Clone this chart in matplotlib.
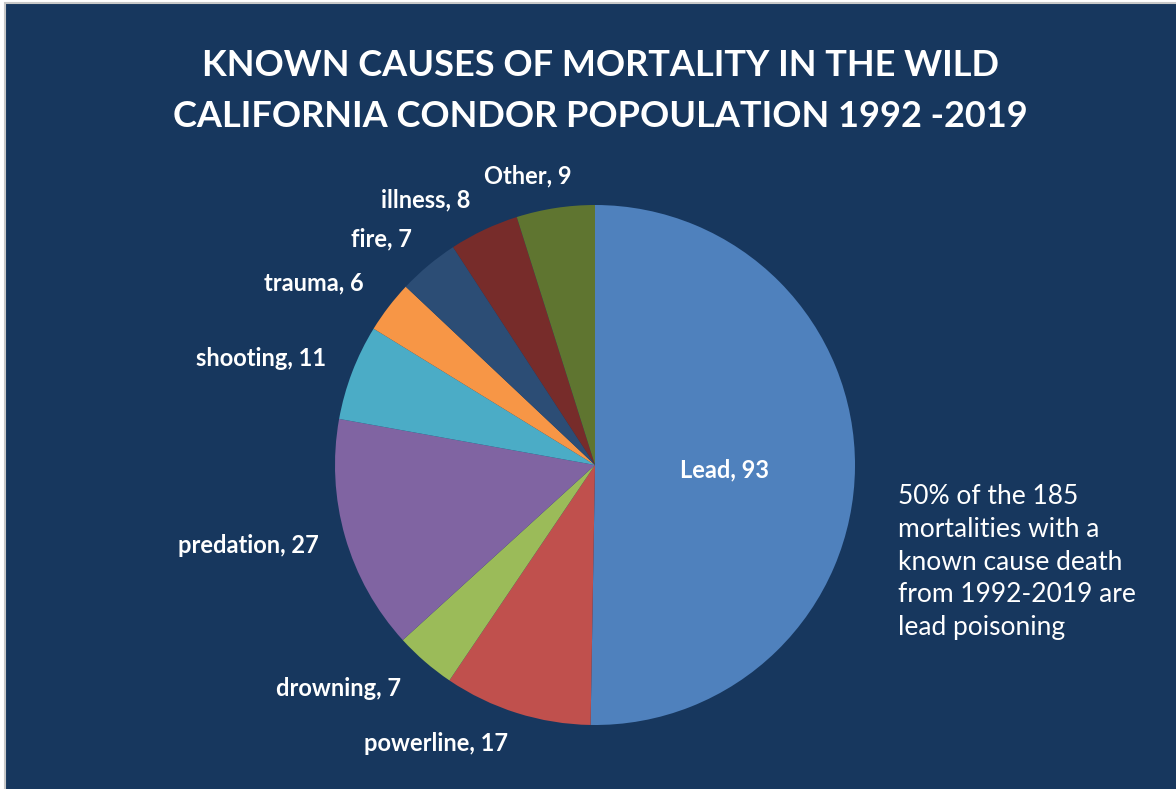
import matplotlib.pyplot as plt
from matplotlib.patches import Rectangle

# mortality causes, clockwise from 12 o'clock
causes = ['Lead', 'powerline', 'drowning', 'predation', 'shooting',
          'trauma', 'fire', 'illness', 'Other']
deaths = [93, 17, 7, 27, 11, 6, 7, 8, 9]
colors = ['#4F81BD', '#C0504D', '#9BBB59', '#8064A2', '#4BACC6',
          '#F79646', '#2C4D75', '#772C2A', '#5F7530']

# label anchors, in pie radii relative to the centre
label_pos = [(0.50, -0.02), (-0.61, -1.07), (-0.985, -0.86), (-1.335, -0.31),
             (-1.285, 0.41), (-1.08, 0.70), (-0.82, 0.87), (-0.65, 1.02),
             (-0.26, 1.11)]

title = 'KNOWN CAUSES OF MORTALITY IN THE WILD\nCALIFORNIA CONDOR POPOULATION 1992 -2019'
note = ('50% of the 185\nmortalities with a\nknown cause death\n'
        'from 1992-2019 are\nlead poisoning')

navy = '#17375E'
W, H = 1176, 789
fig = plt.figure(figsize=(W / 100, H / 100), dpi=100, facecolor='white')

# dark chart area with a thin grey frame
bg = fig.add_axes([0, 0, 1, 1])
bg.set_xlim(0, W)
bg.set_ylim(H, 0)
bg.axis('off')
bg.add_patch(Rectangle((5, 3), W, H, facecolor=navy, edgecolor='#C8C8C8', lw=1.5))

cx, cy, r = 595, 465, 260
ax = fig.add_axes([(cx - r) / W, (H - cy - r) / H, 2 * r / W, 2 * r / H])
ax.patch.set_alpha(0)

wedges, _ = ax.pie(deaths, colors=colors, startangle=90, counterclock=False,
                   radius=1, wedgeprops=dict(linewidth=0))
ax.set_xlim(-1, 1)
ax.set_ylim(-1, 1)
ax.set_aspect('equal')
ax.axis('off')
for name, n, (x, y) in zip(causes, deaths, label_pos):
    ax.text(x, y, f'{name}, {n}', ha='center', va='center', color='white',
            fontsize=17, fontweight='bold', family='Lato', clip_on=False)

fig.text(600 / W, 1 - 91 / H, title, ha='center', va='center', color='white',
         fontsize=26, fontweight='bold', family='Lato', linespacing=1.65)
fig.text(898 / W, 1 - 562 / H, note, ha='left', va='center', color='white',
         fontsize=19, family='Lato', linespacing=1.38)

fig.savefig('out.png', dpi=100, facecolor='white')
